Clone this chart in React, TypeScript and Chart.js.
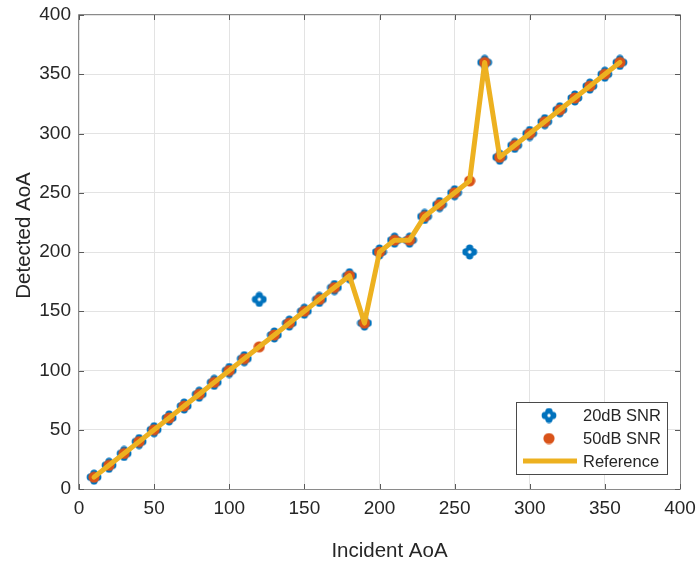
import React, { useEffect, useRef } from "react";
import { Chart, registerables } from "chart.js";

Chart.register(...registerables);

// ---- data ----
const incidentAoA = [10, 20, 30, 40, 50, 60, 70, 80, 90, 100, 110, 120, 130, 140, 150, 160, 170, 180, 190, 200, 210, 220, 230, 240, 250, 260, 270, 280, 290, 300, 310, 320, 330, 340, 350, 360];
const snr20dB = [10, 20, 30, 40, 50, 60, 70, 80, 90, 100, 110, 160, 130, 140, 150, 160, 170, 180, 140, 200, 210, 210, 230, 240, 250, 200, 360, 280, 290, 300, 310, 320, 330, 340, 350, 360];
const snr50dB = [10, 20, 30, 40, 50, 60, 70, 80, 90, 100, 110, 120, 130, 140, 150, 160, 170, 180, 140, 200, 210, 210, 230, 240, 250, 260, 360, 280, 290, 300, 310, 320, 330, 340, 350, 360];
const reference = [10, 20, 30, 40, 50, 60, 70, 80, 90, 100, 110, 120, 130, 140, 150, 160, 170, 180, 140, 200, 210, 210, 230, 240, 250, 260, 360, 280, 290, 300, 310, 320, 330, 340, 350, 360];
const seriesLabels = ["20dB SNR", "50dB SNR", "Reference"];
const axisTicks = [0, 50, 100, 150, 200, 250, 300, 350, 400];
const xTitle = "Incident AoA";
const yTitle = "Detected AoA";

const BLUE = "#0072BD";
const ORANGE = "#D95319";
const YELLOW = "#EDB120";
const TEXT = "#262626";
const FONT = "'Liberation Sans', Arial, sans-serif";

function makeFlower(): HTMLCanvasElement {
  const c = document.createElement("canvas");
  c.width = 16;
  c.height = 16;
  const g = c.getContext("2d")!;
  g.fillStyle = BLUE;
  const offs = [
    [3.7, 0],
    [-3.7, 0],
    [0, 3.7],
    [0, -3.7],
  ];
  for (const [dx, dy] of offs) {
    g.beginPath();
    g.arc(8 + dx, 8 + dy, 3.7, 0, Math.PI * 2);
    g.fill();
  }
  g.beginPath();
  g.arc(8, 8, 4.4, 0, Math.PI * 2);
  g.fill();
  g.fillStyle = "#ffffff";
  g.beginPath();
  g.arc(8, 8, 1.7, 0, Math.PI * 2);
  g.fill();
  return c;
}

function makeDot(): HTMLCanvasElement {
  const c = document.createElement("canvas");
  c.width = 12;
  c.height = 12;
  const g = c.getContext("2d")!;
  g.fillStyle = ORANGE;
  g.beginPath();
  g.arc(6, 6, 5.6, 0, Math.PI * 2);
  g.fill();
  return c;
}

const toPoints = (ys: number[]) => incidentAoA.map((x, i) => ({ x, y: ys[i] }));

const zeroPad = (s: any) => {
  s.paddingTop = 0;
  s.paddingBottom = 0;
  s.paddingLeft = 0;
  s.paddingRight = 0;
};

export default function App() {
  const ref = useRef<HTMLCanvasElement | null>(null);

  useEffect(() => {
    const canvas = ref.current;
    if (!canvas) return;
    const flower = makeFlower();
    const dot = makeDot();

    const boxPlugin = {
      id: "matlabBox",
      afterDatasetsDraw(chart: any) {
        const { ctx, chartArea } = chart;
        const { left, right, top, bottom } = chartArea;
        const xs = chart.scales.x;
        const ys = chart.scales.y;
        ctx.save();
        ctx.strokeStyle = "#8a8a8a";
        ctx.lineWidth = 1;
        ctx.beginPath();
        ctx.rect(Math.round(left) - 0.5, Math.round(top) - 0.5, Math.round(right - left) + 1, Math.round(bottom - top) + 1);
        ctx.stroke();
        ctx.strokeStyle = "#5a5a5a";
        ctx.beginPath();
        for (const v of axisTicks) {
          const px = Math.round(xs.getPixelForValue(v)) + 0.5;
          ctx.moveTo(px, bottom);
          ctx.lineTo(px, bottom - 5);
          ctx.moveTo(px, top);
          ctx.lineTo(px, top + 5);
          const py = Math.round(ys.getPixelForValue(v)) + 0.5;
          ctx.moveTo(left, py);
          ctx.lineTo(left + 5, py);
          ctx.moveTo(right, py);
          ctx.lineTo(right - 5, py);
        }
        ctx.stroke();
        ctx.restore();
      },
    };

    const titlesPlugin = {
      id: "axisTitles",
      afterDraw(chart: any) {
        const { ctx } = chart;
        ctx.save();
        ctx.fillStyle = TEXT;
        ctx.font = `20.5px ${FONT}`;
        ctx.textAlign = "center";
        ctx.textBaseline = "alphabetic";
        ctx.fillText(xTitle, 389.5, 556.5);
        ctx.translate(30, 235.5);
        ctx.rotate(-Math.PI / 2);
        ctx.fillText(yTitle, 0, 0);
        ctx.restore();
      },
    };

    const legendPlugin = {
      id: "insideLegend",
      afterDraw(chart: any) {
        const { ctx } = chart;
        const bx = 516.5,
          by = 402.5,
          bw = 151,
          bh = 72;
        ctx.save();
        ctx.fillStyle = "#ffffff";
        ctx.fillRect(bx, by, bw, bh);
        ctx.strokeStyle = "#4a4a4a";
        ctx.lineWidth = 1;
        ctx.strokeRect(bx, by, bw, bh);
        const rows = [415.5, 438.5, 461];
        ctx.drawImage(flower, 549 - 8, rows[0] - 8);
        ctx.drawImage(dot, 549 - 6, rows[1] - 6);
        ctx.strokeStyle = YELLOW;
        ctx.lineWidth = 5;
        ctx.beginPath();
        ctx.moveTo(523, rows[2]);
        ctx.lineTo(577, rows[2]);
        ctx.stroke();
        ctx.fillStyle = TEXT;
        ctx.font = `16.5px ${FONT}`;
        ctx.textAlign = "left";
        ctx.textBaseline = "middle";
        seriesLabels.forEach((t, i) => ctx.fillText(t, 583, rows[i] + 1));
        ctx.restore();
      },
    };

    const chart = new Chart(canvas, {
      type: "scatter",
      data: {
        datasets: [
          {
            label: seriesLabels[0],
            data: toPoints(snr20dB),
            pointStyle: flower as any,
            pointRadius: 8,
            showLine: false,
            order: 2,
          },
          {
            label: seriesLabels[1],
            data: toPoints(snr50dB),
            pointStyle: dot as any,
            pointRadius: 6,
            showLine: false,
            order: 1,
          },
          {
            label: seriesLabels[2],
            data: toPoints(reference),
            showLine: true,
            borderColor: YELLOW,
            backgroundColor: YELLOW,
            borderWidth: 5,
            pointRadius: 0,
            pointHoverRadius: 0,
            borderJoinStyle: "round",
            borderCapStyle: "round",
            tension: 0,
            order: 0,
          } as any,
        ],
      },
      options: {
        responsive: false,
        animation: false,
        events: [],
        layout: { padding: { left: 0, top: 15, right: 19, bottom: 0 } },
        plugins: {
          legend: { display: false },
          tooltip: { enabled: false },
        },
        scales: {
          x: {
            type: "linear",
            min: 0,
            max: 400,
            afterFit: (s: any) => {
              s.height = 74;
              zeroPad(s);
            },
            afterBuildTicks: (s: any) => {
              s.ticks = axisTicks.map((v) => ({ value: v }));
            },
            ticks: {
              font: { family: FONT, size: 19 },
              color: TEXT,
              padding: 8,
              maxRotation: 0,
            },
            grid: { color: "#e3e3e3", drawTicks: false, lineWidth: 1 },
            border: { display: false },
            title: { display: false },
          },
          y: {
            type: "linear",
            min: 0,
            max: 400,
            afterFit: (s: any) => {
              s.width = 79;
              zeroPad(s);
            },
            afterBuildTicks: (s: any) => {
              s.ticks = axisTicks.map((v) => ({ value: v }));
            },
            ticks: {
              font: { family: FONT, size: 19 },
              color: TEXT,
              padding: 8,
            },
            grid: { color: "#e3e3e3", drawTicks: false, lineWidth: 1 },
            border: { display: false },
            title: { display: false },
          },
        },
      },
      plugins: [boxPlugin, titlesPlugin, legendPlugin],
    });

    return () => chart.destroy();
  }, []);

  return (
    <div style={{ position: "absolute", left: 0, top: 0, width: 699, height: 563, background: "#ffffff" }}>
      <canvas ref={ref} width={699} height={563} style={{ display: "block" }} />
    </div>
  );
}
